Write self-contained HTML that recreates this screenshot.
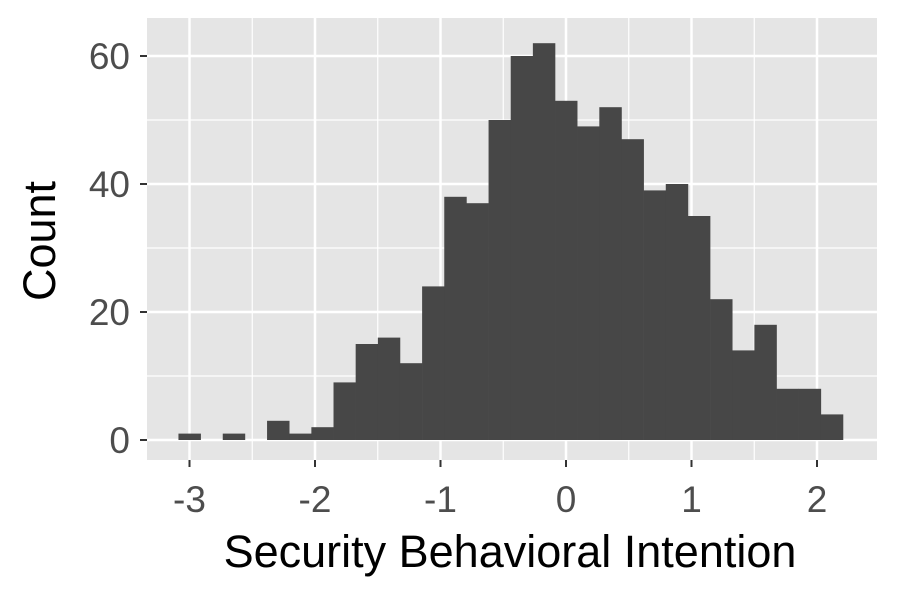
<!DOCTYPE html>
<html><head><meta charset="utf-8"><style>body{margin:0;background:#fff}svg{display:block}</style></head>
<body>
<svg id="chart" width="900" height="600" font-family="Liberation Sans, sans-serif">
<rect x="147" y="18" width="730" height="442" fill="#e5e5e5"/>
<g id="grid"></g>
<g id="bars"></g>
<g id="axes"></g>
<text x="510" y="567" text-anchor="middle" font-size="45" fill="#000">Security Behavioral Intention</text>
<text transform="translate(55,241) rotate(-90)" text-anchor="middle" font-size="45" fill="#000">Count</text>
</svg>
<script>
const counts = [1,0,1,0,3,1,2,9,15,16,12,24,38,37,50,60,62,53,49,52,47,39,40,35,22,14,18,8,8,4];
const binStart = -3.088;
const binWidth = 0.1765;
const xTicks = [-3,-2,-1,0,1,2];
const xTickLabels = ["-3","-2","-1","0","1","2"];
const yTicks = [0,20,40,60];
const yTickLabels = ["0","20","40","60"];
const xs = v => 566 + v*125.5;
const ys = v => 440 - v*6.4;
const NS = "http://www.w3.org/2000/svg";
function mk(tag, attrs, parent){const e=document.createElementNS(NS,tag);for(const k in attrs)e.setAttribute(k,attrs[k]);parent.appendChild(e);return e;}
const grid=document.getElementById('grid'), bars=document.getElementById('bars'), axes=document.getElementById('axes');
for(let v=-2.5; v<=2; v+=1){const l=mk('line',{x1:xs(v),x2:xs(v),y1:18,y2:460,stroke:'#fff','stroke-width':1.2},grid);

}
for(const v of [10,30,50]){const l=mk('line',{x1:147,x2:877,y1:ys(v),y2:ys(v),stroke:'#fff','stroke-width':1.2},grid);

}
xTicks.forEach((v,i)=>{const l=mk('line',{x1:xs(v),x2:xs(v),y1:18,y2:460,stroke:'#fff','stroke-width':2.5},grid);


const t=mk('line',{x1:xs(v),x2:xs(v),y1:460,y2:467,stroke:'#333','stroke-width':2},axes);


const tx=mk('text',{x:xs(v),y:512,'text-anchor':'middle','font-size':37,fill:'#4d4d4d'},axes);tx.textContent=xTickLabels[i];

});
yTicks.forEach((v,i)=>{const l=mk('line',{x1:147,x2:877,y1:ys(v),y2:ys(v),stroke:'#fff','stroke-width':2.5},grid);


const t=mk('line',{x1:140,x2:147,y1:ys(v),y2:ys(v),stroke:'#333','stroke-width':2},axes);


const tx=mk('text',{x:130,y:ys(v)+13,'text-anchor':'end','font-size':37,fill:'#4d4d4d'},axes);tx.textContent=yTickLabels[i];

});
counts.forEach((c,i)=>{if(c<=0)return;const x0=xs(binStart+i*binWidth),x1=xs(binStart+(i+1)*binWidth);
const r=mk('rect',{x:x0,y:ys(c),width:x1-x0+0.3,height:ys(0)-ys(c),fill:'#474747'},bars);

});
</script>
</body></html>
